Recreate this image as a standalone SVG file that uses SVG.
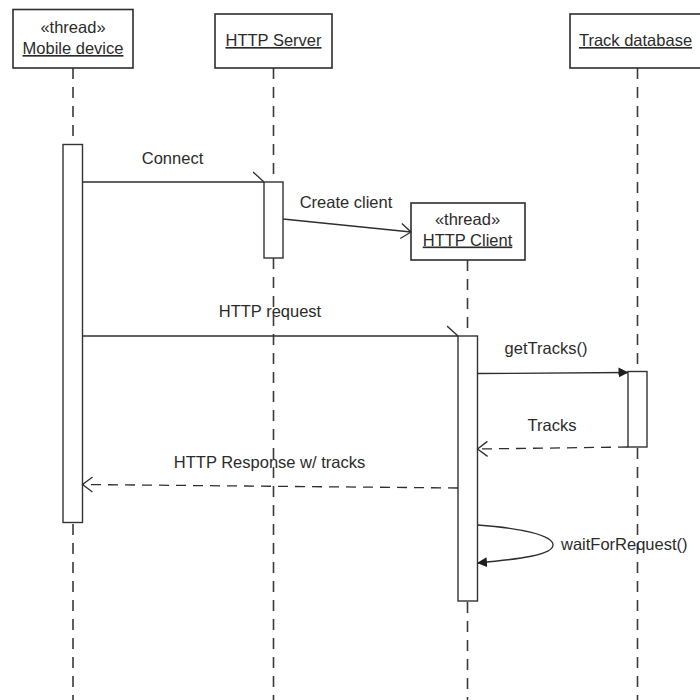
<svg xmlns="http://www.w3.org/2000/svg" width="700" height="700" viewBox="0 0 700 700">
  <style>
    text { font-family: "Liberation Sans", Arial, sans-serif; font-size: 16.5px; fill: #2b2b2b; }
    .u { text-decoration: underline; }
    .head { fill: #ffffff; stroke: #2e2e2e; stroke-width: 1.6; }
    .act { fill: #ffffff; stroke: #333333; stroke-width: 1.4; }
    .life { fill: none; stroke: #3a3a3a; stroke-width: 1.6; stroke-dasharray: 11 8; }
    .msg { fill: none; stroke: #2e2e2e; stroke-width: 1.3; }
    .ret { fill: none; stroke: #2e2e2e; stroke-width: 1.3; stroke-dasharray: 10 7; }
  </style>
  <defs>
    <marker id="half" viewBox="0 0 12 12" refX="11" refY="11" markerWidth="12" markerHeight="12" markerUnits="userSpaceOnUse" orient="auto">
      <path d="M0,1 L11,11" fill="none" stroke="#2e2e2e" stroke-width="1.3"/>
    </marker>
    <marker id="open" viewBox="0 0 12 18" refX="11" refY="9" markerWidth="12" markerHeight="18" markerUnits="userSpaceOnUse" orient="auto">
      <path d="M1,1.5 L11,9 L1,16.5" fill="none" stroke="#2e2e2e" stroke-width="1.3"/>
    </marker>
    <marker id="solid" viewBox="0 0 10 12" refX="9.5" refY="6" markerWidth="10" markerHeight="12" markerUnits="userSpaceOnUse" orient="auto">
      <path d="M0,1 L10,6 L0,11 Z" fill="#1e1e1e"/>
    </marker>
  </defs>

  <!-- lifelines -->
  <g id="lifelines">
    <line class="life" x1="73" y1="68" x2="73" y2="700"/>
    <line class="life" x1="273.5" y1="68" x2="273.5" y2="700"/>
    <line class="life" x1="467.5" y1="260" x2="467.5" y2="700"/>
    <line class="life" x1="637.5" y1="68" x2="637.5" y2="700"/>
  </g>

  <g id="mobile-device">
    <rect class="head" x="13" y="9.5" width="120" height="58.5"/>
    <text x="73" y="33" text-anchor="middle">«thread»</text>
    <text class="u" x="73" y="54" text-anchor="middle">Mobile device</text>
    <rect class="act" x="63" y="144.5" width="19.5" height="378"/>
  </g>

  <g id="http-server">
    <rect class="head" x="215" y="14" width="117" height="54"/>
    <text class="u" x="273.5" y="46" text-anchor="middle">HTTP Server</text>
    <rect class="act" x="264" y="182" width="19" height="76"/>
  </g>

  <g id="http-client">
    <rect class="head" x="411" y="203" width="114" height="57"/>
    <text x="467.5" y="225" text-anchor="middle">«thread»</text>
    <text class="u" x="467.5" y="245.5" text-anchor="middle">HTTP Client</text>
    <rect class="act" x="458" y="336" width="19.5" height="265"/>
  </g>

  <g id="track-database">
    <rect class="head" x="570" y="14" width="136" height="54"/>
    <text class="u" x="635.5" y="46" text-anchor="middle">Track database</text>
    <rect class="act" x="628" y="371.5" width="19" height="75.5"/>
  </g>

  <!-- messages -->
  <g id="connectors">
    <line class="msg" x1="82.5" y1="182" x2="264" y2="182" marker-end="url(#half)"/>
    <text x="172.5" y="164" text-anchor="middle">Connect</text>

    <line class="msg" x1="283" y1="219" x2="411" y2="232" marker-end="url(#open)"/>
    <text x="346" y="208" text-anchor="middle">Create client</text>

    <line class="msg" x1="82.5" y1="336" x2="458" y2="336" marker-end="url(#half)"/>
    <text x="270" y="317" text-anchor="middle">HTTP request</text>

    <line class="msg" x1="477.5" y1="373.5" x2="628" y2="372.5" marker-end="url(#solid)"/>
    <text x="546" y="354" text-anchor="middle">getTracks()</text>

    <line class="ret" x1="628" y1="447" x2="477.5" y2="449" marker-end="url(#open)"/>
    <text x="552" y="431" text-anchor="middle">Tracks</text>

    <line class="ret" x1="458" y1="488" x2="82.5" y2="484.5" marker-end="url(#open)"/>
    <text x="269.5" y="468" text-anchor="middle">HTTP Response w/ tracks</text>

    <path class="msg" d="M477.5,525 C520,528 553,535 553,545 C553,555 520,559 477.5,563" marker-end="url(#solid)"/>
    <text x="561" y="550">waitForRequest()</text>
  </g>
</svg>
